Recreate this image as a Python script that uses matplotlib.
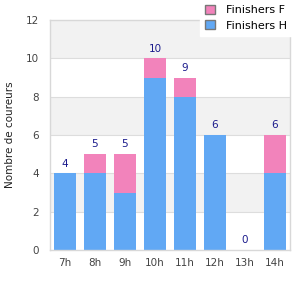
import matplotlib
matplotlib.use("Agg")
import matplotlib.pyplot as plt
from matplotlib.patches import Patch

categories = ["7h", "8h", "9h", "10h", "11h", "12h", "13h", "14h"]
finishers_h = [4, 4, 3, 9, 8, 6, 0, 4]
finishers_f = [0, 1, 2, 1, 1, 0, 0, 2]
totals = [h + f for h, f in zip(finishers_h, finishers_f)]

blue = "#61a8f4"
pink = "#f283bb"

fig = plt.figure(figsize=(3, 3), dpi=100)
ax = fig.add_axes([50/300, 50/300, 240/300, 230/300])
x = list(range(len(categories)))
for lo in range(0, 12, 2):
    if (lo // 2) % 2 == 1:
        ax.axhspan(lo, lo + 2, color="#f2f2f2", zorder=0, lw=0)
for yv in range(2, 12, 2):
    ax.axhline(yv, color="#dddddd", lw=0.8, zorder=0.5)

ax.bar(x, finishers_h, width=0.73, color=blue, zorder=2)
ax.bar(x, finishers_f, width=0.73, bottom=finishers_h, color=pink, zorder=2)
for xi, t in zip(x, totals):
    ax.text(xi, t + 0.25, str(t), ha="center", va="bottom", fontsize=7.5, color="#1a1a8c", zorder=3)

ax.set_xlim(-0.5, len(categories) - 0.5)
ax.set_ylim(0, 12)
ax.set_yticks(range(0, 13, 2))
ax.set_xticks(x)
ax.set_xticklabels(categories)
ax.tick_params(length=0, labelsize=7.5, colors="#444444", pad=6)
ax.tick_params(axis="y", pad=8)
for s in ["left", "bottom", "right", "top"]:
    ax.spines[s].set_color("#d8d8d8")
    ax.spines[s].set_linewidth(1)
ax.set_ylabel("Nombre de coureurs", fontsize=7.5, color="#222222", labelpad=8)

handles = [Patch(facecolor=pink, edgecolor="#777777", label="Finishers F"),
           Patch(facecolor=blue, edgecolor="#777777", label="Finishers H")]
leg = fig.legend(handles=handles, loc="upper right", bbox_to_anchor=(0.973, 1.0),
                 frameon=True, fontsize=8, handlelength=0.85, handleheight=0.85,
                 handletextpad=1.0, borderaxespad=0.0, labelspacing=0.45, borderpad=0.45)
leg.get_frame().set_facecolor("white")
leg.get_frame().set_edgecolor("white")
leg.get_frame().set_alpha(1)
leg.get_frame().set_boxstyle("square", pad=0)
leg.set_zorder(10)

fig.savefig("out.png", dpi=100)
